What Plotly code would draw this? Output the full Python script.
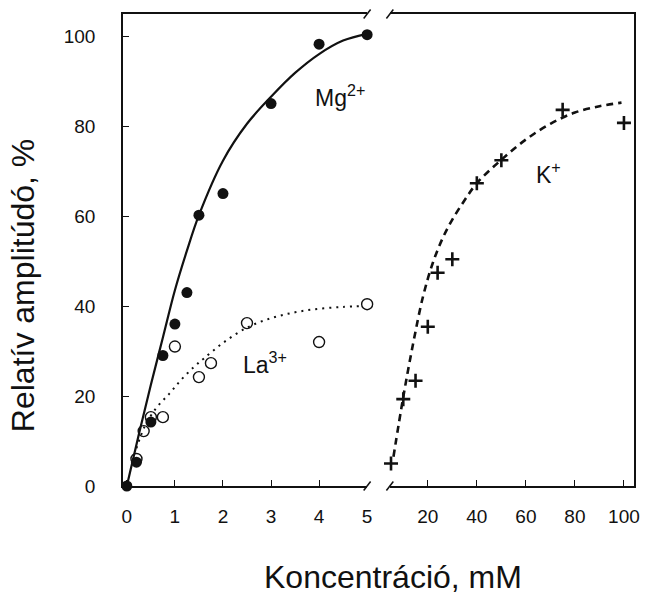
import plotly.graph_objects as go

# ---- measured data -------------------------------------------------------
# Mg2+ (filled circles), 0-5 mM
mg_x = [0, 0.2, 0.5, 0.75, 1.0, 1.25, 1.5, 2.0, 3.0, 4.0, 5.0]
mg_y = [0, 5.3, 14.2, 29, 36, 43, 60.2, 65, 85, 98.2, 100.3]

# La3+ (open circles), 0-5 mM
la_x = [0.2, 0.35, 0.5, 0.75, 1.0, 1.5, 1.75, 2.5, 4.0, 5.0]
la_y = [6, 12.2, 15.3, 15.3, 31, 24.2, 27.3, 36.2, 32, 40.4]

# K+ (plus markers), 5-100 mM
k_x = [5, 10, 15, 20, 24, 30, 40, 50, 75, 100]
k_y = [5.0, 19.3, 23.4, 35.4, 47.4, 50.4, 67.3, 72.4, 83.6, 80.7]

# fitted curves
mg_fit_x = [0, 0.25, 0.5, 0.75, 1.0, 1.25, 1.5, 2.0, 2.5, 3.0, 3.5, 4.0, 4.5, 5.0]
mg_fit_y = [0, 11.5, 22.5, 33, 43.5, 52.3, 60.2, 72.3, 80.5, 86.5, 91.8, 96, 99, 100.5]

la_fit_x = [0.2, 0.37, 0.61, 0.89, 1.13, 1.4, 1.61, 2.0, 2.5, 3.0, 3.5, 4.0, 4.5, 4.9]
la_fit_y = [8.4, 13.2, 17.3, 20.6, 23.6, 26.5, 28.4, 31.8, 35.2, 37.3, 38.6, 39.4, 39.8, 40.0]

k_fit_x = [6, 10, 14, 18, 22, 26, 30, 35, 40, 50, 60, 70, 80, 90, 99]
k_fit_y = [6.5, 19.8, 31.6, 42.0, 49.5, 55.0, 59.2, 63.5, 67.3, 72.5, 77.0, 80.5, 83.0, 84.4, 85.2]

left_ticks = [0, 1, 2, 3, 4, 5]
right_ticks = [20, 40, 60, 80, 100]
y_ticks = [0, 20, 40, 60, 80, 100]

# ---- figure --------------------------------------------------------------
W, H = 650, 594
ML, MR, MT, MB = 123, 10, 14, 108
PW, PH = W - ML - MR, H - MT - MB


def px(x):
    return (x - ML) / PW


def py(y):
    return (H - MB - y) / PH


FONT = "Liberation Sans, Arial, Helvetica, sans-serif"
INK = "#111111"

fig = go.Figure()

fig.add_trace(go.Scatter(x=mg_fit_x, y=mg_fit_y, mode="lines", line_shape="spline",
                         line=dict(color=INK, width=2.2), xaxis="x", yaxis="y",
                         hoverinfo="skip"))
fig.add_trace(go.Scatter(x=la_fit_x, y=la_fit_y, mode="lines", line_shape="spline",
                         line=dict(color=INK, width=2, dash="2px,5px"), xaxis="x", yaxis="y",
                         hoverinfo="skip"))
fig.add_trace(go.Scatter(x=la_x, y=la_y, mode="markers", cliponaxis=False,
                         marker=dict(symbol="circle-open", size=11, color=INK,
                                     line=dict(width=1.4, color=INK)),
                         xaxis="x", yaxis="y", name="La3+"))
fig.add_trace(go.Scatter(x=mg_x, y=mg_y, mode="markers", cliponaxis=False,
                         marker=dict(symbol="circle", size=11, color=INK),
                         xaxis="x", yaxis="y", name="Mg2+"))

fig.add_trace(go.Scatter(x=k_fit_x, y=k_fit_y, mode="lines", line_shape="spline",
                         line=dict(color=INK, width=2.6, dash="7px,5px"), xaxis="x2", yaxis="y2",
                         hoverinfo="skip"))
fig.add_trace(go.Scatter(x=k_x, y=k_y, mode="markers", cliponaxis=False,
                         marker=dict(symbol="cross-thin", size=10,
                                     line=dict(width=2.6, color=INK)),
                         xaxis="x2", yaxis="y2", name="K+"))

tickfont = dict(family=FONT, size=19, color=INK)
common_x = dict(showline=True, linecolor=INK, linewidth=1.5, mirror=True,
                ticks="inside", ticklen=6, tickwidth=1.2, tickcolor=INK,
                showgrid=False, zeroline=False, tickfont=tickfont,
                ticklabelstandoff=12)

fig.update_layout(
    width=W, height=H,
    margin=dict(l=ML, r=MR, t=MT, b=MB),
    paper_bgcolor="white", plot_bgcolor="white",
    showlegend=False,
    xaxis=dict(domain=[0, px(370)], range=[-0.08, 5.0],
               tickvals=left_ticks, **common_x),
    xaxis2=dict(domain=[px(393), 1], range=[4.53, 104.1], anchor="y2",
                tickvals=right_ticks, **common_x),
    yaxis=dict(range=[0, 104.9], domain=[0, 1], anchor="x",
               tickvals=y_ticks, showline=True, linecolor=INK, linewidth=1.5,
               ticks="inside", ticklen=6, tickwidth=1.2, tickcolor=INK,
               showgrid=False, zeroline=False, tickfont=tickfont,
               ticklabelstandoff=22),
    yaxis2=dict(range=[0, 104.9], domain=[0, 1], anchor="x2", side="right",
                matches="y", showline=True, linecolor=INK, linewidth=1.5,
                ticks="", showticklabels=False, showgrid=False, zeroline=False),
)

# series labels
lab = dict(family=FONT, size=23, color=INK)
fig.add_annotation(x=3.87, y=86.7, xref="x", yref="y", text="Mg<sup>2+</sup>",
                   showarrow=False, xanchor="left", yanchor="middle", font=lab)
fig.add_annotation(x=2.37, y=27.3, xref="x", yref="y", text="La<sup>3+</sup>",
                   showarrow=False, xanchor="left", yanchor="middle", font=lab)
fig.add_annotation(x=63.3, y=69.6, xref="x2", yref="y2", text="K<sup>+</sup>",
                   showarrow=False, xanchor="left", yanchor="middle", font=lab)

# axis titles
title_font = dict(family=FONT, size=32, color=INK)
fig.add_annotation(x=px(22), y=py(286), xref="paper", yref="paper",
                   text="Relatív amplitúdó, %", textangle=-90, showarrow=False,
                   xanchor="center", yanchor="middle", font=title_font)
fig.add_annotation(x=px(396), y=py(577), xref="paper", yref="paper",
                   text="Koncentráció, mM", showarrow=False,
                   xanchor="center", yanchor="middle", font=title_font)

# axis-break slashes at top and bottom
for bx in (370, 393):
    for by in (14, 486):
        fig.add_shape(type="line", xref="paper", yref="paper",
                      x0=px(bx - 3.5), y0=py(by + 4.5), x1=px(bx + 3.5), y1=py(by - 4.5),
                      line=dict(color=INK, width=1.5))

fig.write_html("out.html")
